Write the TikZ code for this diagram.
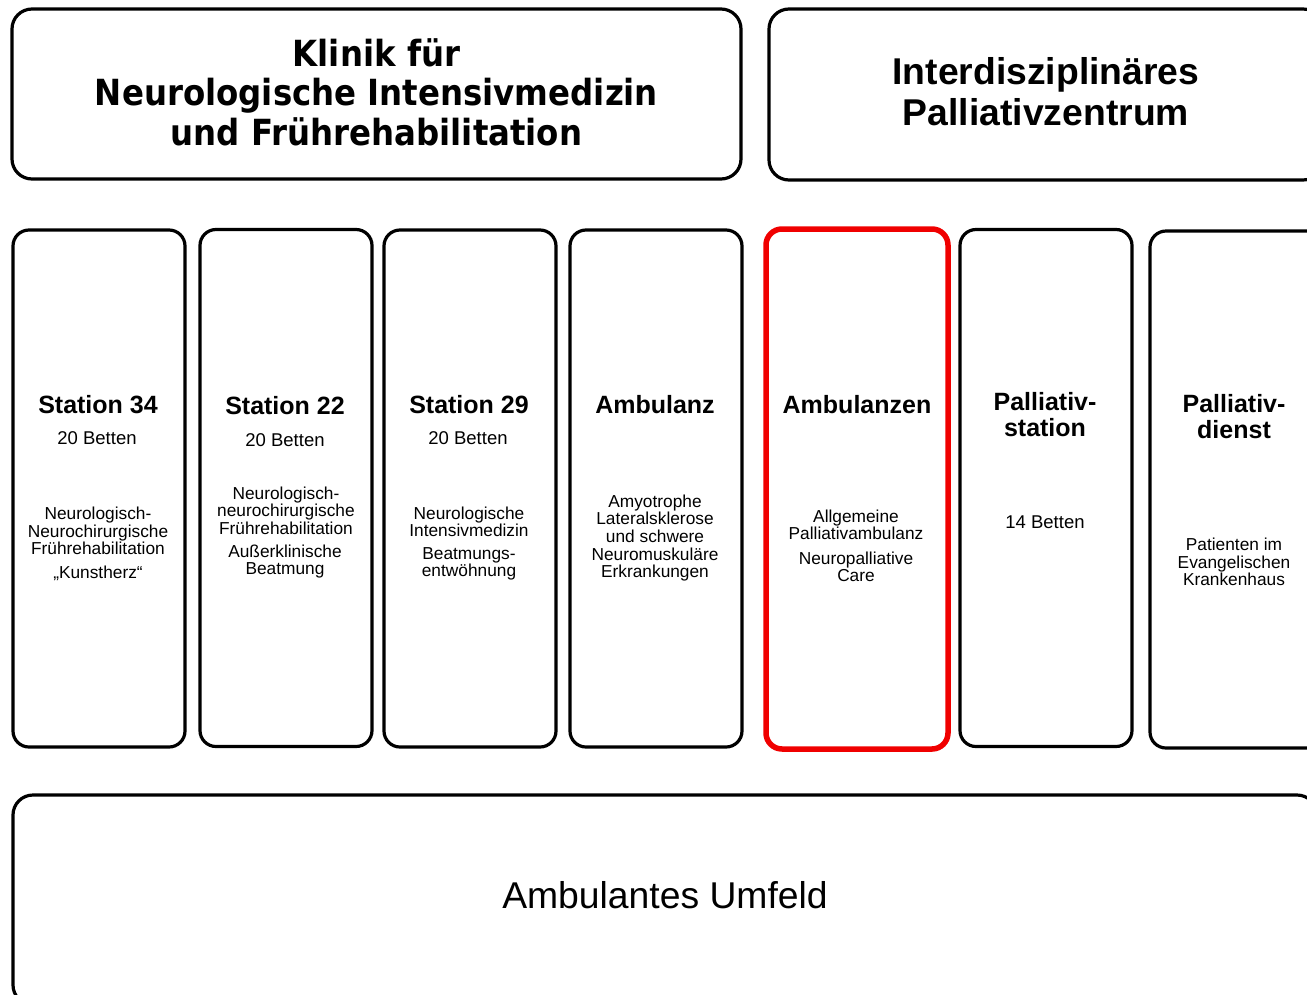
\documentclass[tikz,border=0pt]{standalone}
\usepackage{fontspec}
\setmainfont{Liberation Sans}
\newfontfamily\titlefont{DejaVu Sans}[FakeStretch=0.9]
\definecolor{boxred}{RGB}{240,0,0}
\begin{document}
\begin{tikzpicture}[x=1pt,y=-1pt,
  frame/.style={draw=black,line width=3.2pt,rounded corners=16pt,inner sep=0pt,fill=white},
  colbox/.style={frame,minimum width=172pt,minimum height=517pt},
  redbox/.style={draw=boxred,line width=5.5pt,rounded corners=16pt,inner sep=0pt,minimum width=182pt,minimum height=520pt},
  ctitle/.style={font={\fontsize{25}{26}\selectfont\bfseries},align=center,inner sep=0pt},
  cbeds/.style={font={\fontsize{18.5}{20}\selectfont},align=center,inner sep=0pt},
  csmall/.style={font={\fontsize{17.3}{17.6}\selectfont},align=center,inner sep=0pt},
  ttl/.style={font={\titlefont\fontsize{36}{39.5}\selectfont\bfseries},align=center,inner sep=0pt},
  ttr/.style={font={\fontsize{37.3}{41}\selectfont\bfseries},align=center,inner sep=0pt}]
\clip (0,0) rectangle (1307,994);
\fill[white] (0,0) rectangle (1307,994);
% top boxes
\node[frame,rounded corners=20pt,minimum width=729pt,minimum height=170pt] (klinik) at (376.5,94) {};
\node[ttl] (klinikt) at (376.5,92) {Klinik für\\Neurologische Intensivmedizin\\und Frührehabilitation};
\node[frame,rounded corners=20pt,minimum width=554pt,minimum height=171pt] (pallz) at (1046,94.5) {};
\node[ttr] (pallzt) at (1046,92) {Interdisziplinäres\\Palliativzentrum};
% columns
\node[colbox] (c1) at (99,488.5) {};
\node[colbox] (c2) at (286,488) {};
\node[colbox] (c3) at (470,488.5) {};
\node[colbox] (c4) at (656,488.5) {};
\node[redbox] (c5) at (857,489) {};
\node[colbox] (c6) at (1046,488) {};
\node[colbox] (c7) at (1236,489.5) {};
% column 1
\node[ctitle] (t1) at (98,405) {Station 34};
\node[cbeds] (b1) at (97,438) {20 Betten};
\node[csmall] (s1a) at (98,531) {Neurologisch-\\Neurochirurgische\\Frührehabilitation};
\node[csmall] (s1b) at (98,573) {„Kunstherz“};
% column 2
\node[ctitle] (t2) at (285,406) {Station 22};
\node[cbeds] (b2) at (285,440) {20 Betten};
\node[csmall] (s2a) at (286,510.5) {Neurologisch-\\neurochirurgische\\Frührehabilitation};
\node[csmall] (s2b) at (285,561.5) {Außerklinische\\Beatmung};
% column 3
\node[ctitle] (t3) at (469,405) {Station 29};
\node[cbeds] (b3) at (468,438) {20 Betten};
\node[csmall] (s3a) at (469,522) {Neurologische\\Intensivmedizin};
\node[csmall] (s3b) at (469,564) {Beatmungs-\\entwöhnung};
% column 4
\node[ctitle] (t4) at (655,405) {Ambulanz};
\node[csmall] (s4a) at (655,538) {Amyotrophe\\Lateralsklerose\\und schwere\\Neuromuskuläre\\Erkrankungen};
% column 5
\node[ctitle] (t5) at (857,405) {Ambulanzen};
\node[csmall] (s5a) at (856,525) {Allgemeine\\Palliativambulanz};
\node[csmall] (s5b) at (856,567) {Neuropalliative\\Care};
% column 6
\node[ctitle] (t6) at (1045,415) {Palliativ-\\station};
\node[cbeds] (b6) at (1045,522) {14 Betten};
% column 7
\node[ctitle] (t7) at (1234,417) {Palliativ-\\dienst};
\node[csmall] (s7a) at (1234,562) {Patienten im\\Evangelischen\\Krankenhaus};
% bottom
\node[frame,rounded corners=20pt,minimum width=1304pt,minimum height=210pt] (amb) at (665,900) {};
\node[font={\fontsize{37.3}{40}\selectfont},inner sep=0pt] (ambt) at (665,895) {Ambulantes Umfeld};
\end{tikzpicture}
\end{document}
